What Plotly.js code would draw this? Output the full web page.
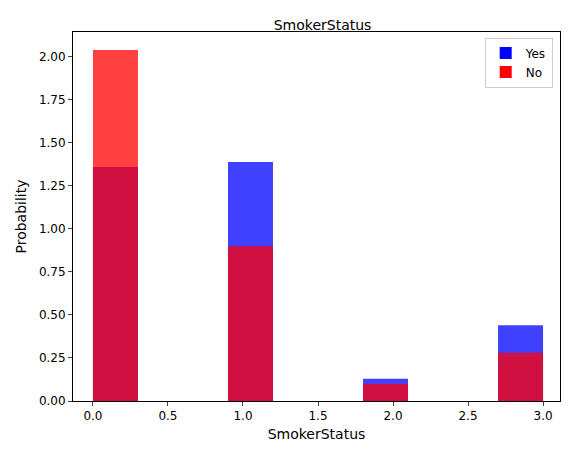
<!DOCTYPE html>
<html>
<head>
<script src="https://cdn.plot.ly/plotly-3.0.1.min.js"></script>
<style>body{margin:0}</style>
</head>
<body>
<div id="chart" style="width:576px;height:455px"></div>
<script>
  // Histogram bins (density), 10 bins on [0, 3]; only four are non-empty
  const binCenters = [0.15, 1.05, 1.95, 2.85];
  const binWidth = 0.3;
  const yesDensity = [1.36, 1.39, 0.13, 0.44];
  const noDensity = [2.04, 0.90, 0.10, 0.28];
  const xTicks = [0, 0.5, 1, 1.5, 2, 2.5, 3];
  const yTicks = [0, 0.25, 0.5, 0.75, 1, 1.25, 1.5, 1.75, 2];

  const bar = (name, y, color) => ({
    type: "bar", name, x: binCenters, y, width: binWidth,
    marker: { color, opacity: 0.75, line: { width: 0 } },
  });

  Plotly.newPlot("chart", [
    bar("Yes", yesDensity, "#0000ff"),
    bar("No", noDensity, "#ff0000"),
  ], {
    width: 576, height: 455,
    barmode: "overlay",
    margin: { l: 73, r: 16, t: 32, b: 54 },
    font: { family: "DejaVu Sans, sans-serif", size: 12, color: "#000" },
    title: { text: "SmokerStatus", x: 0.56, xanchor: "center", y: 0.955, font: { size: 14 } },
    xaxis: {
      range: [-0.133, 3.113], tickvals: xTicks, tickformat: ".1f",
      ticks: "outside", ticklen: 4, showgrid: false, zeroline: false,
      showline: true, mirror: true, linecolor: "#000",
      title: { text: "SmokerStatus", standoff: 6 },
    },
    yaxis: {
      range: [0, 2.145], tickvals: yTicks, tickformat: ".2f",
      ticks: "outside", ticklen: 4, showgrid: false, zeroline: false,
      showline: true, mirror: true, linecolor: "#000",
      title: { text: "Probability", standoff: 8 },
    },
    legend: {
      x: 0.985, y: 0.985, xanchor: "right", yanchor: "top",
      bordercolor: "#ccc", borderwidth: 1, bgcolor: "rgba(255,255,255,0.8)",
    },
    plot_bgcolor: "white", paper_bgcolor: "white",
  }, { displayModeBar: false });
</script>
</body>
</html>
